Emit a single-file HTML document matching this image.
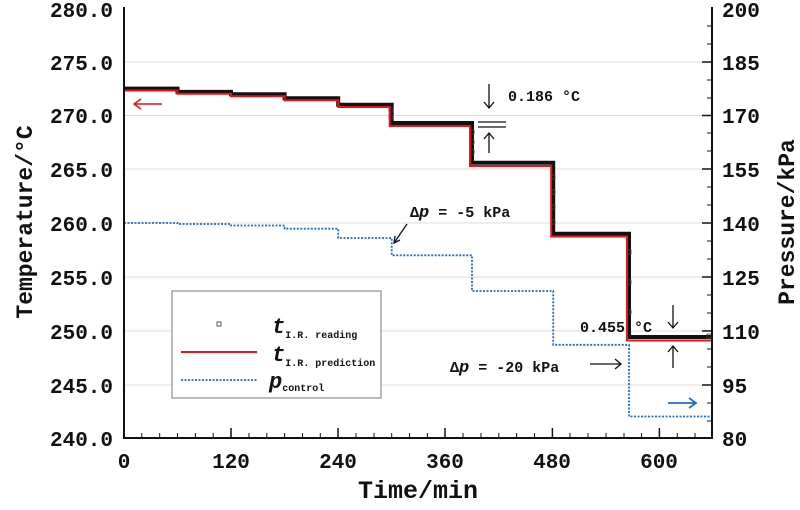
<!DOCTYPE html>
<html><head><meta charset="utf-8"><style>
body{margin:0;background:#fff}
text{font-family:"Liberation Mono",monospace;font-weight:bold;fill:#111}
</style></head><body>
<svg width="800" height="505" viewBox="0 0 800 505" xmlns="http://www.w3.org/2000/svg">
<g stroke="#ddd" stroke-width="1">
<line x1="124" y1="62" x2="712" y2="62"/><line x1="124" y1="115.5" x2="712" y2="115.5"/>
<line x1="124" y1="169" x2="712" y2="169"/><line x1="124" y1="223" x2="712" y2="223"/>
<line x1="124" y1="277" x2="712" y2="277"/><line x1="124" y1="331" x2="712" y2="331"/>
<line x1="124" y1="385" x2="712" y2="385"/>
</g>
<g stroke="#111" stroke-width="1">
<path d="M141.8 438v-5M159.7 438v-5M177.5 438v-5M195.4 438v-5M213.2 438v-5M249 438v-5M266.8 438v-5M284.6 438v-5M302.5 438v-5M320.3 438v-5M356 438v-5M374 438v-5M391.7 438v-5M409.6 438v-5M427.4 438v-5M463 438v-5M481 438v-5M498.8 438v-5M516.6 438v-5M534.5 438v-5M570 438v-5M588 438v-5M606 438v-5M624 438v-5M641.6 438v-5M677.3 438v-5M695 438v-5"/>
<path stroke-width="1.5" d="M231 438v-10M338 438v-10M445 438v-10M552.4 438v-10M659.4 438v-10"/>
<path d="M712 26h-5M712 44h-5M712 80h-5M712 98h-5M712 133h-5M712 151h-5M712 187h-5M712 205h-5M712 241h-5M712 259h-5M712 295h-5M712 313h-5M712 349h-5M712 367h-5M712 403h-5M712 421h-5"/>
<path stroke-width="1.5" d="M712 62h-10M712 115.5h-10M712 169h-10M712 223h-10M712 277h-10M712 331h-10M712 385h-10"/>
</g>
<path fill="none" stroke="#1f6fc8" stroke-width="1.8" stroke-dasharray="2,1.5" d="M124 223H177.5V224H231V225.5H284.6V228.7H338.2V238H391.7V255.3H472V291H553.2V344.8H629V416.5H712"/>
<path fill="none" stroke="#111" stroke-width="4" d="M124 88.6H177.5V91.9H231V94.3H284.6V98.3H338.2V104.8H391.7V123H472V162.8H553.2V233.8H629V337H712"/>
<g fill="none" stroke="#444" stroke-width="0.8">
<rect x="389" y="108" width="4" height="4"/><rect x="389" y="115" width="4" height="4"/>
<rect x="470" y="130" width="4" height="4"/><rect x="470" y="140" width="4" height="4"/><rect x="470" y="150" width="4" height="4"/>
<rect x="551" y="175" width="4" height="4"/><rect x="551" y="190" width="4" height="4"/><rect x="551" y="205" width="4" height="4"/><rect x="551" y="220" width="4" height="4"/>
<rect x="627" y="250" width="4" height="4"/><rect x="627" y="280" width="4" height="4"/><rect x="627" y="310" width="4" height="4"/>
<rect x="707" y="334" width="4" height="4"/>
</g>
<path fill="none" stroke="#e8121a" stroke-width="2" d="M124 90.5H177.5V93.8H231V96.2H284.6V100.3H338.2V107H389.7V126H470V166H551.2V236.5H627V340.5H712"/>
<path fill="none" stroke="#111" stroke-width="2" d="M124 7V438H712V7"/>
<g font-size="21" text-anchor="end">
<text x="113" y="17">280.0</text><text x="113" y="70">275.0</text><text x="113" y="123">270.0</text>
<text x="113" y="177">265.0</text><text x="113" y="231">260.0</text><text x="113" y="285">255.0</text>
<text x="113" y="339">250.0</text><text x="113" y="393">245.0</text><text x="113" y="446">240.0</text>
</g>
<g font-size="21" text-anchor="start">
<text x="722" y="17">200</text><text x="722" y="70">185</text><text x="722" y="123">170</text>
<text x="722" y="177">155</text><text x="722" y="231">140</text><text x="722" y="285">125</text>
<text x="722" y="339">110</text><text x="722" y="393">95</text><text x="722" y="446">80</text>
</g>
<g font-size="21" text-anchor="middle">
<text x="124" y="468">0</text><text x="231" y="468">120</text><text x="338" y="468">240</text>
<text x="445" y="468">360</text><text x="552" y="468">480</text><text x="659" y="468">600</text>
</g>
<text x="418" y="498" font-size="25" text-anchor="middle">Time/min</text>
<text transform="translate(32,222) rotate(-90)" font-size="23" text-anchor="middle">Temperature/°C</text>
<text transform="translate(794,222) rotate(-90)" font-size="23" text-anchor="middle">Pressure/kPa</text>
<rect x="172" y="291" width="209" height="107" fill="#fff" stroke="#777" stroke-width="1"/>
<rect x="217" y="322" width="4" height="4" fill="none" stroke="#444" stroke-width="0.9"/>
<line x1="181" y1="352" x2="257" y2="352" stroke="#e8121a" stroke-width="2"/>
<line x1="181" y1="380" x2="257" y2="380" stroke="#1f6fc8" stroke-width="1.8" stroke-dasharray="2,1.5"/>
<text x="272" y="333" font-size="22" font-style="italic">t<tspan font-size="10" dy="5" font-style="normal">I.R. reading</tspan></text>
<text x="272" y="361" font-size="22" font-style="italic">t<tspan font-size="10" dy="5" font-style="normal">I.R. prediction</tspan></text>
<text x="269" y="388" font-size="22" font-style="italic">p<tspan font-size="10" dy="3" font-style="normal">control</tspan></text>
<g stroke="#111" stroke-width="1.3" fill="none">
<path d="M489 84V108M484 102L489 108L494 102"/>
<path d="M478 122H506M478 127H506"/>
<path d="M489 153V133M484 139L489 133L494 139"/>
<path d="M407 224L394 243M395 236L394 243L400 240"/>
<path d="M673 305V328M668 322L673 328L678 322"/>
<path d="M673 368V346M668 352L673 346L678 352"/>
<path d="M590 364H621M615 359L621 364L615 369"/>
</g>
<path d="M162 104H134M141 99L134 104L141 109" stroke="#e8121a" stroke-width="1.5" fill="none"/>
<path d="M668 403H696M689 398L696 403L689 408" stroke="#1f6fc8" stroke-width="1.8" fill="none"/>
<text x="508" y="101" font-size="15">0.186 °C</text>
<text x="580" y="332" font-size="15">0.455 °C</text>
<text x="410" y="217" font-size="15">Δ<tspan font-style="italic" font-size="17">p</tspan> = -5 kPa</text>
<text x="450" y="372" font-size="15">Δ<tspan font-style="italic" font-size="17">p</tspan> = -20 kPa</text>
</svg>
</body></html>
